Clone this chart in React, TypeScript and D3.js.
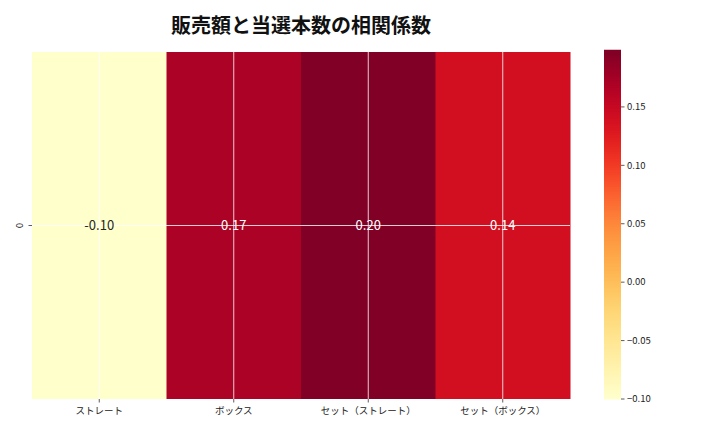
import React from 'react';
import * as d3 from 'd3';

const categories = ['ストレート', 'ボックス', 'セット（ストレート）', 'セット（ボックス）'];
const values = [-0.1, 0.17, 0.197, 0.14];
const colorTicks = [-0.1, -0.05, 0, 0.05, 0.1, 0.15];
const rowLabels = ['0'];

const W = 720;
const H = 432;
const margin = { left: 32, top: 52, right: 150, bottom: 33 };
const FONT = '"Noto Sans CJK JP", "Noto Sans", sans-serif';

export default function App() {
  const innerW = W - margin.left - margin.right;
  const innerH = H - margin.top - margin.bottom;
  const vmin = d3.min(values) as number;
  const vmax = d3.max(values) as number;

  const x = d3.scaleBand<string>().domain(categories).range([margin.left, margin.left + innerW]);
  const y = d3.scaleBand<string>().domain(rowLabels).range([margin.top, margin.top + innerH]);
  const color = d3.scaleSequential(d3.interpolateYlOrRd).domain([vmin, vmax]);

  const cbX = 604;
  const cbW = 17;
  const cb = d3.scaleLinear().domain([vmin, vmax]).range([margin.top + innerH, margin.top]);
  const steps = d3.range(0, 200).map(i => vmin + ((vmax - vmin) * i) / 199);
  const fmt = (v: number) => d3.format('.2f')(v).replace('-', '−');

  return (
    <svg width={W} height={H} style={{ position: 'absolute', left: 0, top: 0, fontFamily: FONT }}>
      <rect width={W} height={H} fill="#fff" />
      <text x={margin.left + innerW / 2} y={33} textAnchor="middle" fontSize={20} fontWeight="bold" fill="#111">
        販売額と当選本数の相関係数
      </text>
      {categories.map((c, i) => (
        <rect key={c} x={x(c)} y={y('0')} width={x.bandwidth() + 0.5} height={y.bandwidth()} fill={color(values[i])} />
      ))}
      {/* grid */}
      {categories.map(c => (
        <line key={c} x1={(x(c) as number) + x.bandwidth() / 2} x2={(x(c) as number) + x.bandwidth() / 2}
          y1={margin.top} y2={margin.top + innerH} stroke="#fff" strokeWidth={0.8} />
      ))}
      <line x1={margin.left} x2={margin.left + innerW} y1={(y('0') as number) + y.bandwidth() / 2}
        y2={(y('0') as number) + y.bandwidth() / 2} stroke="#fff" strokeWidth={0.8} />
      {categories.map((c, i) => (
        <text key={c} x={(x(c) as number) + x.bandwidth() / 2} y={(y('0') as number) + y.bandwidth() / 2}
          dy="0.35em" textAnchor="middle" fontSize={13} fill={values[i] < 0.05 ? '#262626' : '#fff'}>
          {values[i].toFixed(2)}
        </text>
      ))}
      {/* x ticks */}
      {categories.map(c => {
        const cx = (x(c) as number) + x.bandwidth() / 2;
        return (
          <g key={c}>
            <line x1={cx} x2={cx} y1={margin.top + innerH} y2={margin.top + innerH + 3.5} stroke="#333" strokeWidth={0.8} />
            <text x={cx} y={margin.top + innerH + 15} textAnchor="middle" fontSize={9.5} fill="#222">{c}</text>
          </g>
        );
      })}
      {/* y tick */}
      {rowLabels.map(r => {
        const cy = (y(r) as number) + y.bandwidth() / 2;
        return (
          <g key={r}>
            <line x1={margin.left - 3.5} x2={margin.left} y1={cy} y2={cy} stroke="#333" strokeWidth={0.8} />
            <text transform={`translate(${margin.left - 9},${cy}) rotate(-90)`} textAnchor="middle" fontSize={9.5} fill="#222">{r}</text>
          </g>
        );
      })}
      {/* colorbar */}
      {steps.map((v, i) => (
        <rect key={i} x={cbX} y={cb(v) - innerH / 199 - 0.5} width={cbW} height={innerH / 199 + 1} fill={color(v)} />
      ))}
      {colorTicks.map(t => (
        <g key={t}>
          <line x1={cbX + cbW} x2={cbX + cbW + 3.5} y1={cb(t)} y2={cb(t)} stroke="#333" strokeWidth={0.8} />
          <text x={cbX + cbW + 6} y={cb(t)} dy="0.35em" fontSize={9.5} fill="#222">{fmt(t)}</text>
        </g>
      ))}
    </svg>
  );
}
